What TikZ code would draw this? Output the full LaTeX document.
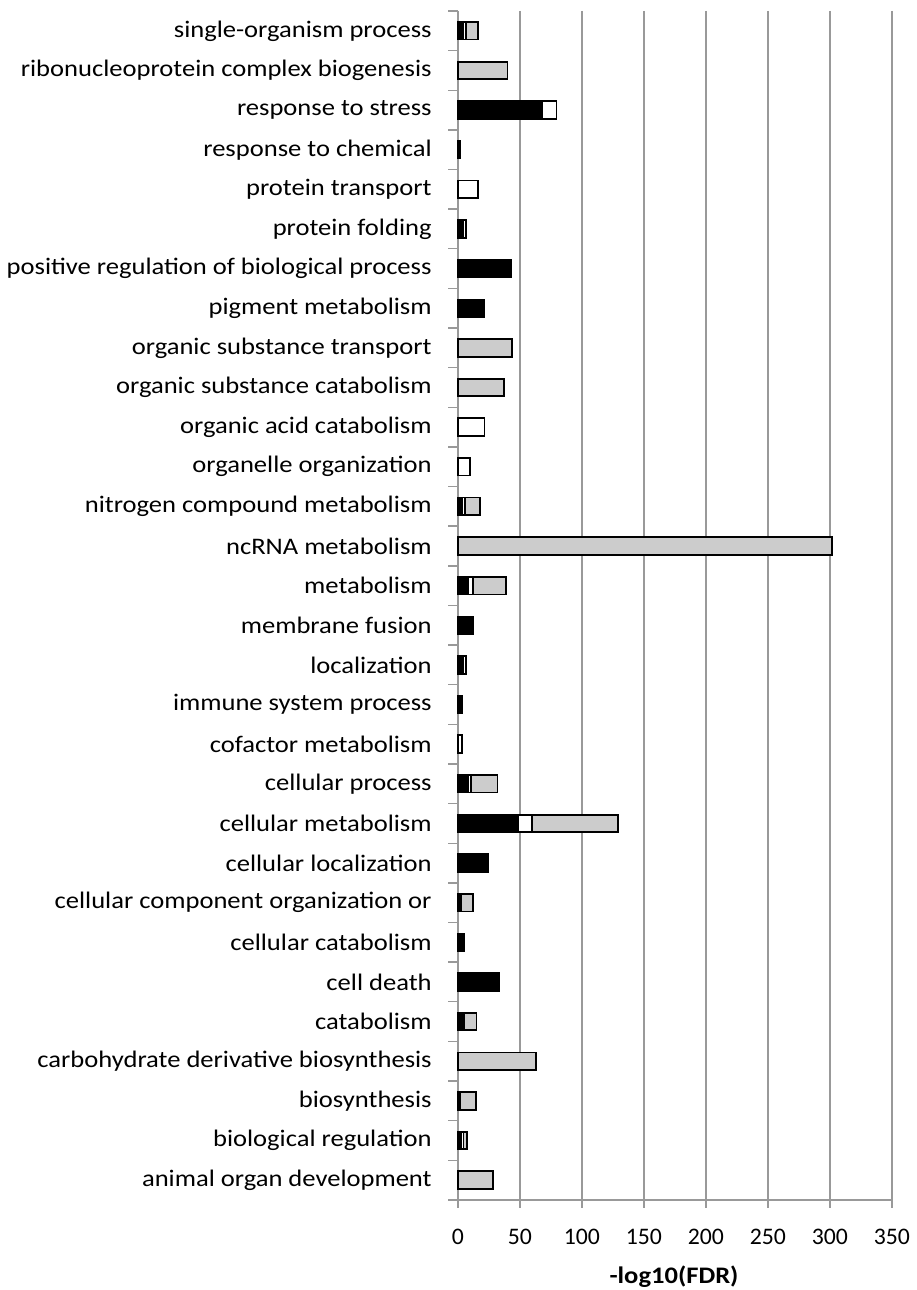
\documentclass[tikz,border=0pt]{standalone}
\usepackage{fontspec}
\setmainfont{Carlito}
\tikzset{
	blackstyle/.style={draw=black,fill=black,line width=1pt},
	whitestyle/.style={draw=black,fill=white,line width=1pt},
	graystyle/.style={draw=black,fill=white!80!black,line width=1pt},
	gridstyle/.style={draw=black!40,line width=0.8pt},
	labelstyle/.style={anchor=east,inner sep=0pt,xscale=1.12}
}
\begin{document}
\begin{tikzpicture}[x=0.02cm,y=-0.02cm]
		\fontsize{13.5}{16}\selectfont
		\useasboundingbox (0,0) rectangle (916,1290);
		% grid, axes and ticks
		\foreach \v in {50,100,...,350}
			\draw[gridstyle] ({457.8+1.24*\v},11) -- ({457.8+1.24*\v},1208);
		\draw[gridstyle] (457.8,11) -- (457.8,1208);
		\draw[gridstyle] (457.8,1200) -- (891.8,1200);
		\foreach \k in {0,...,30}
			\draw[gridstyle] (448,{11+39.63*\k}) -- (457.8,{11+39.63*\k});
		\foreach \v in {0,50,...,350}
			\node (tick\v) at ({457.8+1.24*\v},1237) {\v};
		\node[font=\bfseries,xscale=1.12] (xlabel) at (674,1277) {-log10(FDR)};
		% rows: black, white, gray parts
		\foreach \i/\txt/\b/\w/\g in {
			1/single-organism process/4/2.5/10,
			2/ribonucleoprotein complex biogenesis/0/0/40,
			3/response to stress/67.6/12/0,
			4/response to chemical/1.5/0/0,
			5/protein transport/0/16.4/0,
			6/protein folding/4/2.5/0,
			7/positive regulation of biological process/43/0/0,
			8/pigment metabolism/21/0/0,
			9/organic substance transport/0/0/43.4,
			10/organic substance catabolism/0/0/37,
			11/organic acid catabolism/0/21.6/0,
			12/organelle organization/0/9.6/0,
			13/nitrogen compound metabolism/3.5/2.5/12,
			14/ncRNA metabolism/0/0/302,
			15/metabolism/8/4.3/26.3,
			16/membrane fusion/12/0/0,
			17/localization/4.5/2/0,
			18/immune system process/3.4/0/0,
			19/cofactor metabolism/0/3.6/0,
			20/cellular process/8/2.5/21.5,
			21/cellular metabolism/48.8/11.3/68.9,
			22/cellular localization/24.3/0/0,
			23/cellular component organization or/1.5/1.5/9.5,
			24/cellular catabolism/5/0/0,
			25/cell death/33.2/0/0,
			26/catabolism/4.8/0/10.2,
			27/carbohydrate derivative biosynthesis/0/0/63.3,
			28/biosynthesis/2/0/12.5,
			29/biological regulation/3/1.5/3.2,
			30/animal organ development/0/0/28.6}{
			\pgfmathsetmacro\yc{11+39.63*(\i-0.5)}
			\pgfmathsetmacro\xb{457.8+1.24*\b}
			\pgfmathsetmacro\xw{\xb+1.24*\w}
			\pgfmathsetmacro\xg{\xw+1.24*\g}
			\node[labelstyle] (label\i) at (432,\yc) {\txt};
			\draw[graystyle] (\xw,\yc-8.8) rectangle (\xg,\yc+8.8);
			\draw[whitestyle] (\xb,\yc-8.8) rectangle (\xw,\yc+8.8);
			\draw[blackstyle] (457.8,\yc-8.8) rectangle (\xb,\yc+8.8);
		}
		\end{tikzpicture}
\end{document}
